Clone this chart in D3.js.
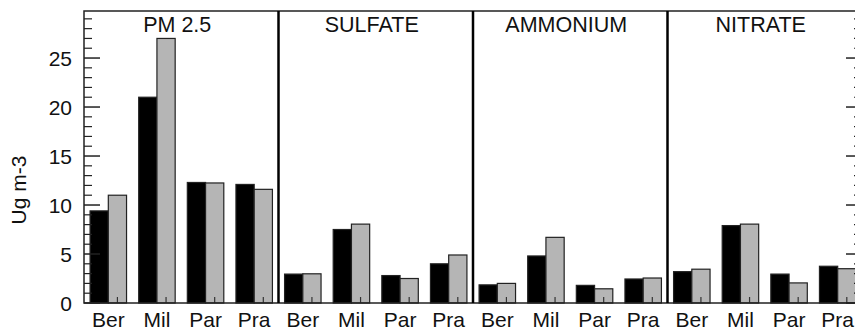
<!DOCTYPE html>
<html>
<head>
<meta charset="utf-8">
<script src="https://cdn.jsdelivr.net/npm/d3@7"></script>
<style>
  html, body { margin: 0; padding: 0; background: #fff; }
  svg { display: block; font-family: "Liberation Sans", Arial, Helvetica, sans-serif; }
</style>
</head>
<body>
<svg id="chart" width="855" height="332"></svg>
<script>
// Species panels and the four cities shown in each
const species = ["PM 2.5", "SULFATE", "AMMONIUM", "NITRATE"];
const cities = ["Ber", "Mil", "Par", "Pra"];
const seriesKeys = ["a", "b"];

// Concentrations (ug m-3) per species, in city order; black bar = series a, grey bar = series b
const seriesA = {
  "PM 2.5":   [9.4, 21.0, 12.3, 12.1],
  "SULFATE":  [2.95, 7.5, 2.8, 4.0],
  "AMMONIUM": [1.85, 4.8, 1.8, 2.45],
  "NITRATE":  [3.2, 7.9, 2.95, 3.75]
};
const seriesB = {
  "PM 2.5":   [11.0, 27.0, 12.25, 11.6],
  "SULFATE":  [2.98, 8.05, 2.5, 4.9],
  "AMMONIUM": [2.0, 6.7, 1.45, 2.55],
  "NITRATE":  [3.45, 8.05, 2.05, 3.5]
};

const yTicks = [0, 5, 10, 15, 20, 25];
const yMinorTicks = d3.range(0, 30, 1);
const yLabel = "Ug m-3";

const svg = d3.select("#chart");
const plotLeft = 84, plotRight = 862, plotTop = 11, plotBottom = 303;

const y = d3.scaleLinear().domain([0, 29.8]).range([plotBottom, plotTop]);
const xPanel = d3.scaleBand().domain(species).range([plotLeft, plotRight]).padding(0);
const xCity = d3.scaleBand().domain(cities).range([0, xPanel.bandwidth()])
  .paddingInner(0.25).paddingOuter(0.125);
const xSeries = d3.scaleBand().domain(seriesKeys).range([0, xCity.bandwidth()]).padding(0);
const fills = { a: "#000000", b: "#b5b5b5" };

// Bars
species.forEach(sp => {
  const g = svg.append("g").attr("transform", `translate(${xPanel(sp)},0)`);
  const rows = cities.map((c, i) => ({ city: c, a: seriesA[sp][i], b: seriesB[sp][i] }));
  const groups = g.selectAll("g.city").data(rows).join("g")
    .attr("class", "city")
    .attr("transform", d => `translate(${xCity(d.city)},0)`);
  groups.selectAll("rect").data(d => seriesKeys.map(k => ({ key: k, value: d[k] }))).join("rect")
    .attr("x", d => xSeries(d.key))
    .attr("y", d => y(d.value))
    .attr("width", xSeries.bandwidth())
    .attr("height", d => y(0) - y(d.value))
    .attr("fill", d => fills[d.key])
    .attr("stroke", "#222")
    .attr("stroke-width", 1.2);
  // small upward ticks on the baseline under each grey bar
  groups.append("line")
    .attr("x1", xSeries("b") + xSeries.bandwidth() / 2)
    .attr("x2", xSeries("b") + xSeries.bandwidth() / 2)
    .attr("y1", plotBottom).attr("y2", plotBottom - 6)
    .attr("stroke", "#333").attr("stroke-width", 1.2);

  // category labels
  g.selectAll("text.city").data(cities).join("text")
    .attr("class", "city")
    .attr("x", c => xCity(c) + xCity.bandwidth() / 2)
    .attr("y", 327)
    .attr("text-anchor", "middle")
    .attr("font-size", 21)
    .attr("fill", "#111")
    .text(c => c);

  // panel title
  g.append("text")
    .attr("x", xPanel.bandwidth() / 2 - 4)
    .attr("y", 32)
    .attr("text-anchor", "middle")
    .attr("font-size", 21.5)
    .attr("fill", "#111")
    .text(sp);
});

// Frame
svg.append("rect")
  .attr("x", plotLeft).attr("y", plotTop)
  .attr("width", plotRight - plotLeft).attr("height", plotBottom - plotTop)
  .attr("fill", "none").attr("stroke", "#222").attr("stroke-width", 1.5);

// Panel dividers
svg.selectAll("line.divider").data(species.slice(1)).join("line")
  .attr("class", "divider")
  .attr("x1", d => xPanel(d)).attr("x2", d => xPanel(d))
  .attr("y1", plotTop).attr("y2", plotBottom)
  .attr("stroke", "#000").attr("stroke-width", 2.5);

// Inward ticks on left and right axes
const minor = yMinorTicks.filter(v => !yTicks.includes(v));
[plotLeft, plotRight].forEach(xa => {
  const dir = xa === plotLeft ? 1 : -1;
  svg.append("g").selectAll("line").data(minor).join("line")
    .attr("x1", xa).attr("x2", xa + dir * 8)
    .attr("y1", d => y(d)).attr("y2", d => y(d))
    .attr("stroke", "#222").attr("stroke-width", 1.2);
  svg.append("g").selectAll("line").data(yTicks).join("line")
    .attr("x1", xa).attr("x2", xa + dir * 16)
    .attr("y1", d => y(d)).attr("y2", d => y(d))
    .attr("stroke", "#222").attr("stroke-width", 1.5);
});

// Y tick labels
svg.append("g").selectAll("text").data(yTicks).join("text")
  .attr("x", 72)
  .attr("y", d => y(d))
  .attr("dy", "0.36em")
  .attr("text-anchor", "end")
  .attr("font-size", 21)
  .attr("fill", "#111")
  .text(d => d);

// Y axis title
svg.append("text")
  .attr("transform", "translate(26,190) rotate(-90)")
  .attr("text-anchor", "middle")
  .attr("font-size", 21)
  .attr("fill", "#111")
  .text(yLabel);
</script>
</body>
</html>
